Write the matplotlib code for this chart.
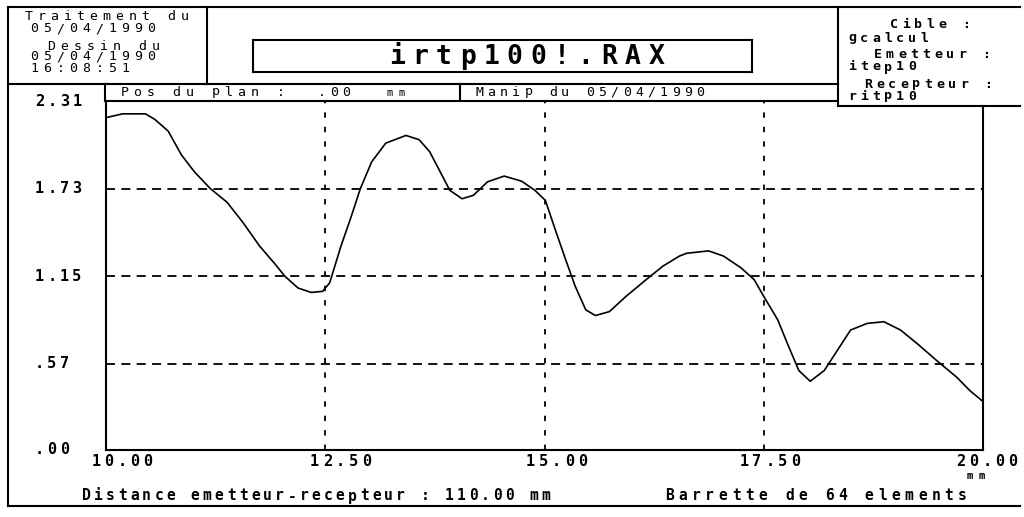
import matplotlib
matplotlib.use("Agg")
import matplotlib.pyplot as plt
import matplotlib.transforms as mtransforms

# distance along the bar (mm) and measured amplitude
dist_mm = [10.00, 10.19, 10.45, 10.56, 10.71, 10.86, 11.01, 11.19, 11.38, 11.56,
           11.75, 11.93, 12.04, 12.19, 12.34, 12.47, 12.55, 12.68, 12.80, 12.90,
           13.03, 13.19, 13.42, 13.57, 13.69, 13.81, 13.92, 14.06, 14.19, 14.35,
           14.54, 14.74, 14.89, 15.01, 15.12, 15.24, 15.35, 15.47, 15.58, 15.74,
           15.93, 16.16, 16.35, 16.54, 16.62, 16.87, 17.04, 17.24, 17.39, 17.50,
           17.66, 17.77, 17.90, 18.03, 18.19, 18.34, 18.49, 18.68, 18.87, 19.06,
           19.25, 19.47, 19.70, 19.85, 19.99]
amplitude = [2.200, 2.225, 2.225, 2.187, 2.110, 1.953, 1.840, 1.730, 1.640, 1.507,
             1.351, 1.229, 1.150, 1.072, 1.043, 1.050, 1.106, 1.351, 1.552, 1.730,
             1.908, 2.031, 2.082, 2.054, 1.975, 1.842, 1.719, 1.663, 1.686, 1.775,
             1.813, 1.779, 1.719, 1.652, 1.463, 1.262, 1.084, 0.928, 0.890, 0.916,
             1.017, 1.128, 1.217, 1.284, 1.302, 1.318, 1.284, 1.206, 1.128, 1.017,
             0.861, 0.704, 0.526, 0.455, 0.526, 0.660, 0.794, 0.838, 0.849, 0.794,
             0.704, 0.593, 0.482, 0.393, 0.326]

x_ticks = [10.0, 12.5, 15.0, 17.5, 20.0]
x_labels = ["10.00", "12.50", "15.00", "17.50", "20.00"]
y_ticks = [0.0, 0.57, 1.15, 1.73, 2.31]
y_labels = [".00", ".57", "1.15", "1.73", "2.31"]

header_left = ["Traitement du", "05/04/1990", "Dessin du", "05/04/1990", "16:08:51"]
header_right = ["Cible :", "gcalcul", "Emetteur :", "itep10", "Recepteur :", "ritp10"]
title = "irtp100!.RAX"

DPI = 100
W, H = 1024, 517
MONO = "DejaVu Sans Mono"

fig = plt.figure(figsize=(W / DPI, H / DPI), dpi=DPI)
fig.patch.set_facecolor("white")

# plot frame, pixel box 106..983 x 101..450
ax = fig.add_axes([106 / W, 1 - 450 / H, (983 - 106) / W, (450 - 101) / H])
# full-page layer in pixel units for the printed form
ov = fig.add_axes([0, 0, 1, 1], zorder=3)
ov.set_xlim(0, W)
ov.set_ylim(H, 0)
ov.axis("off")

ax.plot(dist_mm, amplitude, color="black", lw=1.2, solid_joinstyle="round")
ax.set_xlim(x_ticks[0], x_ticks[-1])
ax.set_ylim(y_ticks[0], y_ticks[-1])
ax.set_xticks(x_ticks)
ax.set_yticks(y_ticks)
ax.tick_params(length=0, labelbottom=False, labelleft=False)
for v in x_ticks[1:-1]:
    ax.axvline(v, color="black", lw=1.3, ls=(0, (3, 5)))
for v in y_ticks[1:-1]:
    ax.axhline(v, color="black", lw=1.3, ls=(0, (5, 3.5)))
for s in ("top", "right"):
    ax.spines[s].set_visible(False)
for s in ("left", "bottom"):
    ax.spines[s].set_linewidth(1.5)


def spaced(x, y, s, pitch, trans=None, dx=0, size=9, weight="normal"):
    # fixed-pitch text, one glyph per cell like the old printer output
    trans = trans or ov.transData
    for i, ch in enumerate(s):
        if ch == " ":
            continue
        off = (dx + (i + 0.5) * pitch) * 72 / DPI
        t = mtransforms.offset_copy(trans, fig=fig, x=off, y=0, units="points")
        ov.text(x, y, ch, transform=t, ha="center", va="center",
                fontsize=size, fontweight=weight, family=MONO)


def rule(x0, y0, x1, y1, lw=1.5):
    ov.plot([x0, x1], [y0, y1], color="black", lw=lw, solid_capstyle="projecting")


# page border and header boxes
rule(8, 7, 1020, 7)
rule(8, 7, 8, 506)
rule(8, 506, 1020, 506)
rule(207, 7, 207, 84)
rule(8, 84, 838, 84)
rule(838, 7, 838, 106)
rule(105, 84, 105, 101)
rule(460, 84, 460, 101)
rule(105, 101, 838, 101)
rule(838, 106, 1020, 106)
rule(983, 106, 983, 450)
rule(253, 40, 752, 40)
rule(253, 72, 752, 72)
rule(253, 40, 253, 72)
rule(752, 40, 752, 72)

# left header block
for txt, x, y in zip(header_left, [22, 28, 45, 28, 28], [17, 29, 46, 57, 68]):
    spaced(x, y, txt, 13, size=9.5)

# right header block
for txt, x, y in zip(header_right, [888, 846, 872, 846, 862, 846],
                     [25, 38, 55, 67, 84, 96]):
    spaced(x, y, txt, 12, size=9.5, weight="bold")

spaced(385, 57, title, 23.6, size=19, weight="bold")

spaced(118, 92, "Pos du plan :", 13, size=9.5)
spaced(316, 92, ".00", 12, size=9.5)
spaced(384, 93, "mm", 12, size=7.5)
spaced(473, 92, "Manip du 05/04/1990", 12.3, size=9.5)

# axis labels
x_trans = mtransforms.blended_transform_factory(ax.transData, ov.transData)
x_label_shift = [16, 15, 12, 6, 4]
for v, lab, sh in zip(x_ticks, x_labels, x_label_shift):
    spaced(v, 462, lab, 13, trans=x_trans, dx=sh - len(lab) * 13 / 2,
           size=11, weight="bold")
y_trans = mtransforms.blended_transform_factory(ov.transData, ax.transData)
for v, lab in zip(y_ticks, y_labels):
    spaced(33, v, lab, 12.5, trans=y_trans, size=11, weight="bold")
spaced(964, 476, "mm", 12, size=7.5, weight="bold")

spaced(80, 496, "Distance emetteur-recepteur : 110.00 mm", 12.1,
       size=10.5, weight="bold")
spaced(663, 496, "Barrette de 64 elements", 13.3, size=10.5, weight="bold")

fig.savefig("out.png", dpi=DPI, facecolor="white")
